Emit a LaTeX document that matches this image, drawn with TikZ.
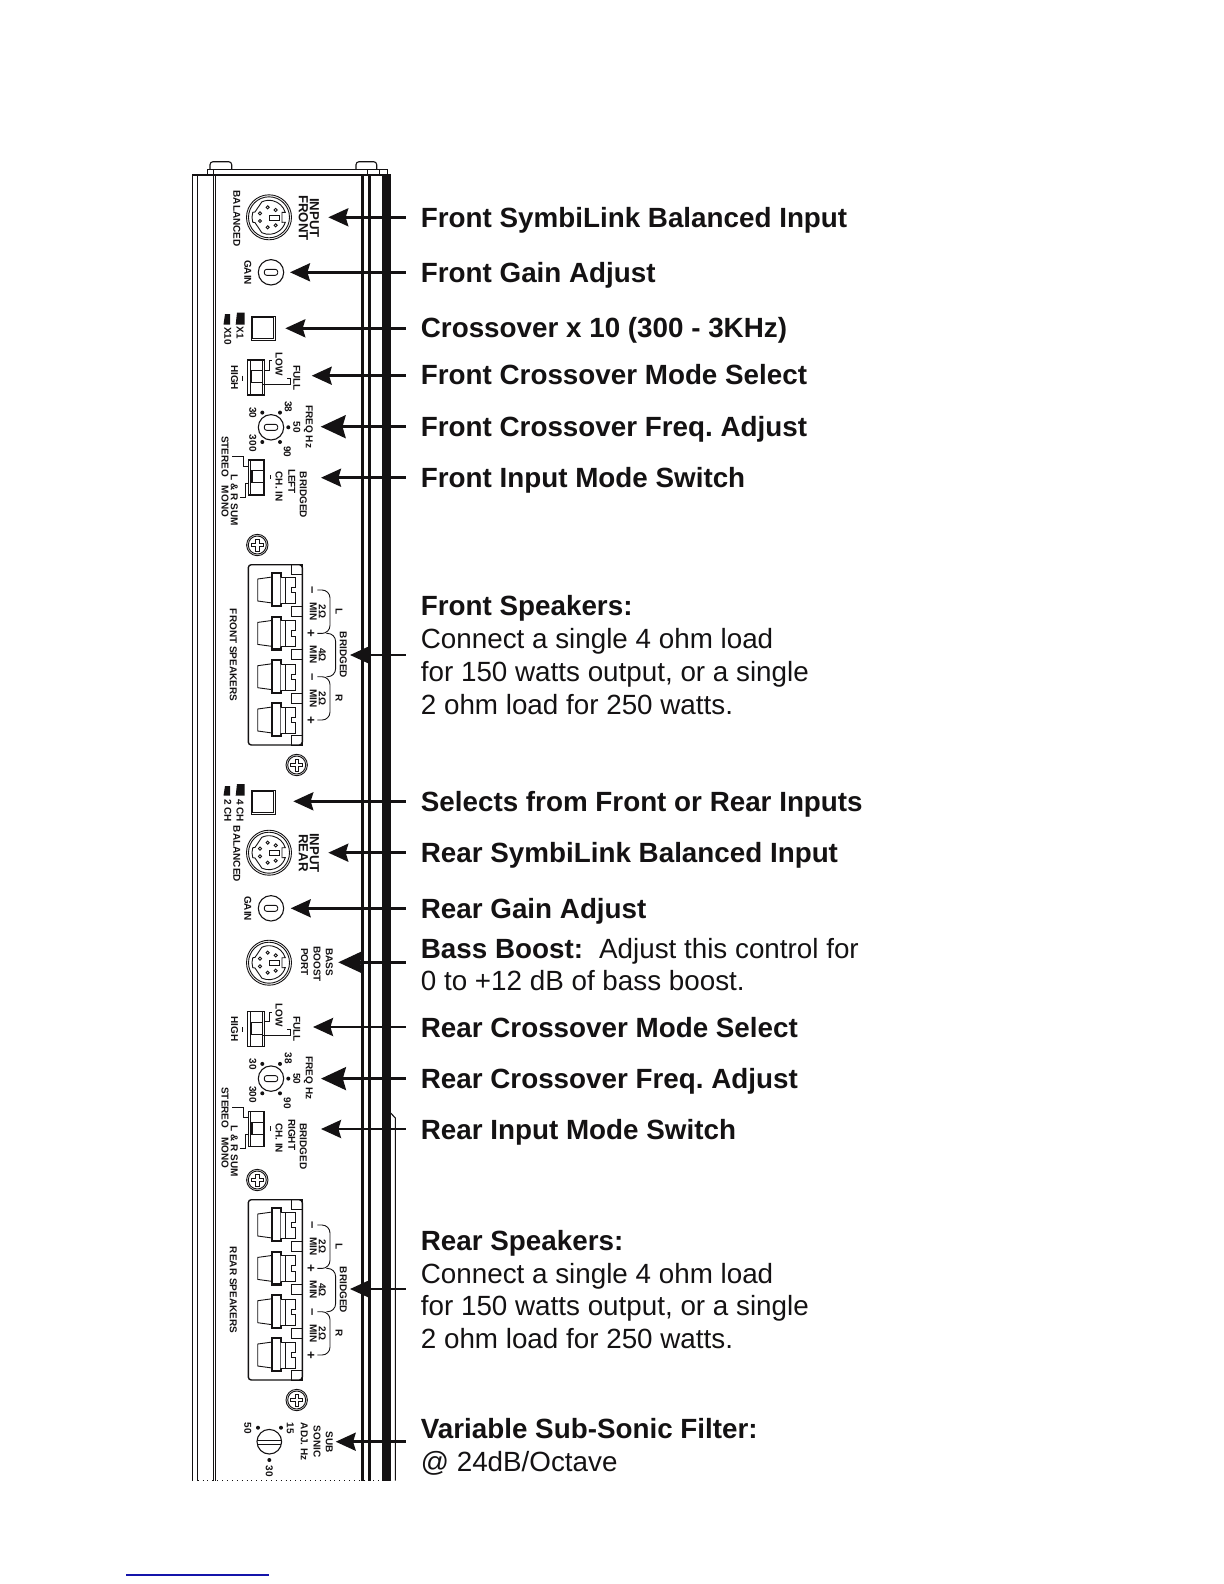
\documentclass[tikz,border=0pt]{standalone}
\usepackage{fontspec}
\setmainfont{Liberation Sans}
\usetikzlibrary{arrows.meta, positioning, calc}
\definecolor{ampink}{RGB}{20,18,19}
\definecolor{linkblue}{RGB}{20,20,170}

\tikzset{
  panel/.style={draw=ampink, line width=0.55pt},
  thinpart/.style={draw=ampink, line width=0.45pt},
  callout/.style={draw=ampink, line width=1.35pt, -{Stealth[length=10bp,width=9bp,inset=1.3bp]}},
  bigcallout/.style={draw=ampink, line width=1.4pt, -{Stealth[length=12.5bp,width=11.5bp,inset=1.6bp]}},
  lbl/.style={anchor=west, inner sep=0pt, outer sep=7.6bp, align=left, text=ampink,
    font=\fontsize{13.9bp}{16.4bp}\selectfont\frenchspacing},
  tag/.style={rotate=-90, inner sep=0pt, text=ampink, font=\fontsize{5bp}{5bp}\selectfont\bfseries},
  bigtag/.style={tag, font=\fontsize{6.6bp}{6.6bp}\selectfont\bfseries},
  dinplug/.pic={
    \draw[thinpart] (0,0) circle (22.5) (0,0) circle (20.5);
    \draw[thinpart] (-17:17) arc (-17:-115:17) -- (-14,-5.3) -- (197:17) arc (197:163:17)
      -- (-14,5.3) -- (115:17) arc (115:17:17) -- (13,5) -- (13,-5) -- cycle;
    \foreach \px/\py in {-1.3/-10,6.7/-7.3,-9/-4,-9/3.7,-1.3/10,6.7/8}
      \draw[thinpart] (\px,\py) circle (1.6);
    \draw[thinpart] (0.3,-2) rectangle (10,3);
  },
  gainknob/.pic={
    \draw[panel] (0,0) circle (12.7);
    \draw[thinpart, rounded corners=1.2pt] (-6.7,-3) rectangle (6.7,3);
  },
  freqknob/.pic={
    \draw[panel] (0,0) circle (12.7);
    \draw[thinpart, rounded corners=1.2pt] (-6.7,-3) rectangle (6.7,3);
    \foreach \px/\py in {17.3/0,9/-14.7,9/14.7,-8.7/-14.7,-8.7/14.7}
      \fill[ampink] (\px,\py) circle (2);
    \node[tag] (n38) at (17.3,-20.6) {38};
    \node[tag] (n50) at (25.7,0) {50};
    \node[tag] (n90) at (16.3,24.4) {90};
    \node[tag] (n30) at (-18.3,-14.6) {30};
    \node[tag] (n300) at (-18.3,16) {300};
    \node[tag] (nfreq) at (37.3,-0.6) {FREQ Hz};
  },
  pushsw/.pic={
    \draw[panel, line width=0.7pt] (-12,-12) rectangle (12,12);
    \draw[thinpart] (-10.6,-10.6) rectangle (10.6,10.6);
  },
  slidebody/.pic={
    \draw[panel] (-8.3,-17.5) rectangle (8.3,17.5);
    \draw[thinpart] (-6,-17.5) -- (-6,17.5) (6.7,-17.5) -- (6.7,17.5);
    \draw[thinpart] (-6,-6.8) -- (6.7,-6.8) (-6,5.2) -- (6.7,5.2);
    \fill[ampink] (-6,-6.8) rectangle (-3.8,5.2);
  },
  modesw/.pic={
    % slide switch with LOW / FULL / HIGH
    \pic {slidebody};
    \draw[thinpart] (-13.7,-1.8) -- (-13.7,3.5);
    \draw[thinpart] (15.7,-16.8) -- (13,-16.8) -- (13,-7.5) -- (9,-7.5);
    \draw[thinpart] (6.7,6.8) -- (34,6.8) -- (34,0.8) -- (30.7,0.8);
    \node[tag] (nlow) at (23,-13.5) {LOW};
    \node[tag] (nfull) at (40.7,0.5) {FULL};
    \node[tag] (nhigh) at (-21.5,0) {HIGH};
  },
  inputsw/.pic={
    % slide switch with stereo / mono bracket
    \pic {slidebody};
    \draw[thinpart] (13.5,-2.5) -- (13.5,1.8);
    \draw[thinpart] (-8.3,-11) -- (-13.2,-11) -- (-13.2,-21.5) -- (-25,-21.5);
    \draw[thinpart] (-8.3,5.8) -- (-11.5,5.8) -- (-11.5,19.8) -- (-16.5,19.8);
    \node[tag] (nchin) at (22.5,9.2) {CH. IN};
    \node[tag] (nsum) at (-22.2,22.5) {L \& R SUM};
    \node[tag] (nstereo) at (-31.5,-1) {STEREO\hspace{3bp} MONO};
    \node[tag] (nbridged) at (46.8,17.5) {BRIDGED};
  },
  screwhead/.pic={
    \draw[thinpart] (0,0) circle (10.7) (0,0) circle (9);
    \draw[thinpart] (-6,-1.7) -- (-1.7,-1.7) -- (-1.7,-6) -- (1.7,-6) -- (1.7,-1.7) -- (6,-1.7)
      -- (6,1.7) -- (1.7,1.7) -- (1.7,6) -- (-1.7,6) -- (-1.7,1.7) -- (-6,1.7) -- cycle;
  },
  termblock/.pic={
    % four speaker terminals, origin at the top left corner
    \draw[panel, line width=0.7pt, rounded corners=1.5pt] (0,0) rectangle (54,180.3);
    \foreach \sy in {0,42,85,129,171}
      \draw[thinpart] (43.3,\sy) rectangle (54,\sy+9.3);
    \foreach \ty in {25.3,68.7,112,155.3}{
      \draw[thinpart, fill=white] (24,\ty-13) -- (9.4,\ty-11) -- (9.4,\ty+11) -- (24,\ty+13);
      \draw[panel, line width=1.1pt, fill=white] (24,\ty-16.7) rectangle (32.3,\ty+16);
      \draw[thinpart, fill=white] (32.3,\ty-12.7) -- (46.7,\ty-12.7) -- (46.7,\ty-2.7) -- (42.7,\ty-2.7)
        -- (42.7,\ty+2.7) -- (46.7,\ty+2.7) -- (46.7,\ty+13.3) -- (32.3,\ty+13.3);
      \draw[thinpart] (37.3,\ty-12.7) -- (37.3,\ty+13.3);
    }
    \draw[thinpart, rounded corners=4pt] (69,25.3) -| (81.7,68.7) -- (69,68.7);
    \draw[thinpart, rounded corners=4pt] (78,68.7) -| (87.3,112) -- (78,112);
    \draw[thinpart, rounded corners=4pt] (69,112) -| (81.7,155.3) -- (69,155.3);
    \node[bigtag] (nma) at (62.3,25.3) {–};
    \node[bigtag] (npa) at (62.3,68.7) {+};
    \node[bigtag] (nmb) at (62.3,112) {–};
    \node[bigtag] (npb) at (62.3,155.3) {+};
    \node[tag] (noa) at (74,47) {2Ω};
    \node[tag] (nob) at (74,90.3) {4Ω};
    \node[tag] (noc) at (74,133.7) {2Ω};
    \node[tag] (nmina) at (65,47) {MIN};
    \node[tag] (nminb) at (65,90.3) {MIN};
    \node[tag] (nminc) at (65,133.7) {MIN};
    \node[tag] (nleft) at (90.7,47) {L};
    \node[tag] (nright) at (90.7,133.7) {R};
    \node[tag] (nbridge) at (95,90.3) {BRIDGED};
  },
}

\begin{document}
\begin{tikzpicture}[x=0.5bp, y=-0.5bp]
  \useasboundingbox (0,0) rectangle (1224,1584);

  % screw tabs and top flange
  \draw[panel, rounded corners=1.5pt] (210,169.3) |- (231.7,161.7) -- (231.7,169.3);
  \draw[panel, rounded corners=1.5pt] (356,169.3) |- (376.7,161.7) -- (376.7,169.3);
  \draw[panel] (207.3,175) |- (387.3,169.3) -- (387.3,175);
  \draw[panel] (213.5,169.3) -- (213.5,175) (367.3,169.3) -- (367.3,175) (379.3,169.3) -- (379.3,175);

  % amplifier side panel
  \draw[panel] (192.7,1480.7) |- (390.7,175);
  \draw[panel] (197.7,175) -- (197.7,1480.7);
  \draw[panel] (213.3,175) -- (213.3,1480.7) (215.3,175) -- (215.3,1480.7);
  \fill[ampink] (361.3,175) rectangle (364,1480.7);
  \fill[ampink] (368,175) rectangle (371,1480.7);
  \fill[ampink] (382.3,175) rectangle (390.7,1480.7);
  \draw[panel] (390.7,1113) -- (395.3,1118) -- (395.3,1480.7);
  \draw[thinpart, dotted] (197.7,1480.7) -- (382,1480.7);

  % front section
  \pic (frontdin) at (269,217.3) {dinplug};
  \node[bigtag] (tagfrontb) at (314.3,218) {INPUT};
  \node[bigtag] (tagfronta) at (303.3,218) {FRONT};
  \node[tag] (tagbalf) at (236.7,218.7) {BALANCED};
  \pic (frontgain) at (271,272.3) {gainknob};
  \node[tag] (taggainf) at (247.7,272.7) {GAIN};
  \pic (xsw) at (263.3,328.3) {pushsw};
  \fill[ampink] (237,312.5) -- (244.5,312.5) -- (244.5,324.5) -- (235.7,324.5) -- cycle;
  \fill[ampink] (225,314) -- (230,314) -- (230,324.5) -- (223.5,324.5) -- cycle;
  \node[tag] (tagxa) at (240,333) {X1};
  \node[tag] (tagxb) at (227.7,336) {X10};
  \pic (frontmode) at (256,377.5) {modesw};
  \pic (frontfreq) at (271,427.3) {freqknob};
  \pic (frontinsw) at (256.5,477.5) {inputsw};
  \node[tag] (tagleft) at (291.7,481.5) {LEFT};
  \pic (screwa) at (257.3,545) {screwhead};
  \pic (frontblk) at (248.3,564.7) {termblock};
  \node[tag] (tagfrontspk) at (233.3,655) {FRONT SPEAKERS};
  \pic (screwb) at (296.7,765) {screwhead};

  % rear section
  \pic (chsw) at (263.3,802.3) {pushsw};
  \fill[ampink] (237,784) -- (244.5,784) -- (244.5,795.5) -- (235.7,795.5) -- cycle;
  \fill[ampink] (225,786) -- (230,786) -- (230,795.5) -- (223.5,795.5) -- cycle;
  \node[tag] (tagcha) at (240,810.5) {4 CH};
  \node[tag] (tagchb) at (227.7,810.5) {2 CH};
  \pic (reardin) at (269,852.7) {dinplug};
  \node[bigtag] (tagrearb) at (314.3,853) {INPUT};
  \node[bigtag] (tagreara) at (303.3,853) {REAR};
  \node[tag] (tagbalr) at (236.7,854) {BALANCED};
  \pic (reargain) at (271,908.3) {gainknob};
  \node[tag] (taggainr) at (247.7,908.7) {GAIN};
  \pic (bassdin) at (269,962.7) {dinplug};
  \node[tag] (tagbassa) at (329.3,962) {BASS};
  \node[tag] (tagbassb) at (317,964) {BOOST};
  \node[tag] (tagbassc) at (304.5,962) {PORT};
  \pic (rearmode) at (256,1028.8) {modesw};
  \pic (rearfreq) at (271,1078.6) {freqknob};
  \pic (rearinsw) at (256.5,1128.8) {inputsw};
  \node[tag] (tagright) at (291.7,1134.6) {RIGHT};
  \pic (screwc) at (257.3,1180) {screwhead};
  \pic (rearblk) at (248.3,1199.7) {termblock};
  \node[tag] (tagrearspk) at (233.3,1290) {REAR SPEAKERS};
  \pic (screwd) at (296.7,1400) {screwhead};

  % sub-sonic knob
  \draw[panel] (269.3,1441.7) circle (12.3);
  \draw[thinpart] (257.3,1440) -- (281.3,1440) (257.3,1444) -- (281.3,1444);
  \foreach \px/\py in {258/1427.7,281/1427.7,269.3/1460}
    \fill[ampink] (\px,\py) circle (2);
  \node[tag] (tagfifty) at (247.7,1428) {50};
  \node[tag] (tagfifteen) at (290.3,1428) {15};
  \node[tag] (tagthirty) at (269.3,1471) {30};
  \node[tag] (tagsub) at (329.3,1442.5) {SUB};
  \node[tag] (tagsonic) at (317,1441.7) {SONIC};
  \node[tag] (tagadj) at (304.3,1441.7) {ADJ. Hz};

  % labels and callouts
  \coordinate (tipfrontin) at (328.3,217.3);
  \node[lbl] (lblfrontin) at (405.7,220.3) {\bfseries Front SymbiLink Balanced Input};
  \draw[callout] (lblfrontin.west |- tipfrontin) -- (tipfrontin);

  \coordinate (tipfrontgain) at (290,272.3);
  \node[lbl] (lblfrontgain) at (405.7,275.3) {\bfseries Front Gain Adjust};
  \draw[callout] (lblfrontgain.west |- tipfrontgain) -- (tipfrontgain);

  \coordinate (tipcross) at (285.3,328.3);
  \node[lbl] (lblcross) at (405.7,330.3) {\bfseries Crossover x 10 (300 - 3KHz)};
  \draw[callout] (lblcross.west |- tipcross) -- (tipcross);

  \coordinate (tipfrontmode) at (311.7,375.7);
  \node[lbl] (lblfrontmode) at (405.7,374.7) {\bfseries Front Crossover Mode Select};
  \draw[callout] (lblfrontmode.west |- tipfrontmode) -- (tipfrontmode);

  \coordinate (tipfrontfreq) at (320.7,426.7);
  \node[lbl] (lblfrontfreq) at (405.7,429.7) {\bfseries Front Crossover Freq. Adjust};
  \draw[bigcallout] (lblfrontfreq.west |- tipfrontfreq) -- (tipfrontfreq);

  \coordinate (tipfrontinsw) at (321,477.7);
  \node[lbl] (lblfrontinsw) at (405.7,480.7) {\bfseries Front Input Mode Switch};
  \draw[callout] (lblfrontinsw.west |- tipfrontinsw) -- (tipfrontinsw);

  \coordinate (tipfrontspk) at (350,655);
  \node[lbl] (lblfrontspk) at (405.7,655) {{\bfseries Front Speakers:}\\Connect a single 4 ohm load\\for 150 watts output, or a single\\2 ohm load for 250 watts.};
  \draw[callout] (lblfrontspk.west) -- (tipfrontspk);

  \coordinate (tipselect) at (293.3,801.3);
  \node[lbl] (lblselect) at (405.7,804.3) {\bfseries Selects from Front or Rear Inputs};
  \draw[callout] (lblselect.west |- tipselect) -- (tipselect);

  \coordinate (tiprearin) at (328.3,852.7);
  \node[lbl] (lblrearin) at (405.7,855.7) {\bfseries Rear SymbiLink Balanced Input};
  \draw[callout] (lblrearin.west |- tiprearin) -- (tiprearin);

  \coordinate (tipreargain) at (290.7,908.3);
  \node[lbl] (lblreargain) at (405.7,911.3) {\bfseries Rear Gain Adjust};
  \draw[callout] (lblreargain.west |- tipreargain) -- (tipreargain);

  \coordinate (tipbass) at (338.3,962.3);
  \node[lbl] (lblbass) at (405.7,964.6) {{\bfseries Bass Boost:}\hspace{0.3em} Adjust this control for\\0 to +12 dB of bass boost.};
  \draw[bigcallout] (lblbass.west |- tipbass) -- (tipbass);

  \coordinate (tiprearmode) at (313,1027);
  \node[lbl] (lblrearmode) at (405.7,1028) {\bfseries Rear Crossover Mode Select};
  \draw[callout] (lblrearmode.west |- tiprearmode) -- (tiprearmode);

  \coordinate (tiprearfreq) at (321,1078.6);
  \node[lbl] (lblrearfreq) at (405.7,1081.6) {\bfseries Rear Crossover Freq. Adjust};
  \draw[bigcallout] (lblrearfreq.west |- tiprearfreq) -- (tiprearfreq);

  \coordinate (tiprearinsw) at (321,1129);
  \node[lbl] (lblrearinsw) at (405.7,1132) {\bfseries Rear Input Mode Switch};
  \draw[callout] (lblrearinsw.west |- tiprearinsw) -- (tiprearinsw);

  \coordinate (tiprearspk) at (350,1289);
  \node[lbl] (lblrearspk) at (405.7,1289.5) {{\bfseries Rear Speakers:}\\Connect a single 4 ohm load\\for 150 watts output, or a single\\2 ohm load for 250 watts.};
  \draw[callout] (lblrearspk.west |- tiprearspk) -- (tiprearspk);

  \coordinate (tipsub) at (335.7,1441.7);
  \node[lbl] (lblsub) at (405.7,1446.5) {{\bfseries Variable Sub-Sonic Filter:}\\@ 24dB/Octave};
  \draw[callout] (lblsub.west |- tipsub) -- (tipsub);

  % short rule at the foot of the page
  \draw[linkblue, line width=0.6pt] (126,1575) -- (269,1575);
\end{tikzpicture}
\end{document}
